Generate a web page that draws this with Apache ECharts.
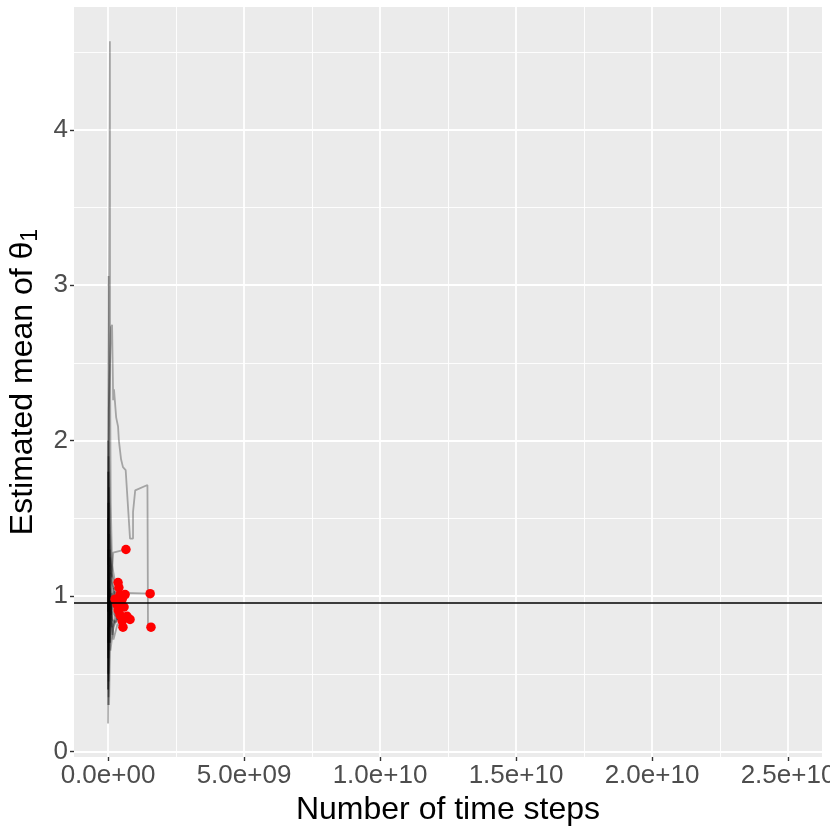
<!DOCTYPE html>
<html>
<head>
<meta charset="utf-8">
<script src="https://cdn.jsdelivr.net/npm/echarts@6/dist/echarts.min.js"></script>
<style>
  html, body { margin: 0; padding: 0; background: #fff; }
  #chart { width: 830px; height: 830px; }
</style>
</head>
<body>
<div id="chart"></div>
<script>
// tick positions
const xMajor = [0, 5e9, 1e10, 1.5e10, 2e10, 2.5e10]
const xMinor = [2.5e9, 7.5e9, 1.25e10, 1.75e10, 2.25e10]
const yMajor = [0, 1, 2, 3, 4]
const yMinor = [0.5, 1.5, 2.5, 3.5, 4.5]

const trueMean = 0.958

// each run: [time step, estimated mean]; last point is the red endpoint
const runs = [
  [[1e6, 1.2], [7e7, 4.57], [7.5e7, 2.5], [1.0e8, 1.6], [1.5e8, 1.2], [2.5e8, 1.1], [3.7e8, 1.087]],
  [[1e6, 0.7], [2e7, 3.06], [3e7, 2.0], [8e7, 1.4], [1.5e8, 1.1], [2.6e8, 0.98]],
  [[1e6, 1.8], [2e7, 0.5], [6e7, 1.3], [1.2e8, 1.15], [2.5e8, 1.08], [4.0e8, 1.055]],
  [[1e6, 0.18], [3e7, 1.0], [6e7, 0.7], [1.3e8, 0.95], [2.5e8, 1.03], [4.4e8, 1.01]],
  [[1e6, 2.0], [3e7, 0.8], [8e7, 1.15], [1.6e8, 0.95], [3.0e8, 1.0], [6.3e8, 1.01]],
  [[1e6, 0.3], [4e7, 1.4], [9e7, 0.85], [2.0e8, 1.05], [3.5e8, 0.97], [5.2e8, 0.98]],
  [[1e6, 1.5], [2e7, 0.35], [6e7, 0.75], [1.3e8, 1.02], [2.5e8, 0.9], [3.7e8, 0.91]],
  [[1e6, 0.6], [3e7, 1.6], [7e7, 0.9], [1.6e8, 0.75], [3.2e8, 0.96], [5.9e8, 0.93]],
  [[1e6, 1.1], [2e7, 0.45], [7e7, 1.25], [1.5e8, 0.85], [2.8e8, 0.83], [4.4e8, 0.88]],
  [[1e6, 0.9], [3e7, 1.7], [8e7, 0.7], [1.8e8, 0.9], [3.6e8, 0.85], [7.0e8, 0.87]],
  [[1e6, 0.4], [3e7, 1.2], [9e7, 0.65], [2.0e8, 0.8], [4.0e8, 0.88], [8.1e8, 0.85]],
  [[1e6, 1.3], [2e7, 0.6], [6e7, 1.05], [1.4e8, 0.8], [3.0e8, 0.86], [5.2e8, 0.84]],
  [[1e6, 0.8], [4e7, 0.3], [1.0e8, 0.95], [2.0e8, 0.72], [3.5e8, 0.82], [5.5e8, 0.80]],
  [[1e6, 1.6], [2e7, 0.7], [5e7, 1.1], [1.1e8, 0.88], [2.0e8, 0.96], [3.3e8, 0.945]],
  [[1e6, 0.5], [2e7, 1.8], [5e7, 1.5], [9e7, 1.2], [1.4e8, 1.12], [1.6e8, 1.19], [1.9e8, 1.28], [6.6e8, 1.30]],
  [[1e6, 0.4], [2e7, 1.9], [6e7, 1.3], [1.2e8, 1.1], [2.0e8, 1.05], [3.5e8, 1.04], [5.0e8, 1.02], [6.3e8, 1.02], [1.55e9, 1.016]],
  [[1e6, 0.9], [3e7, 2.2], [1.1e8, 2.73], [1.5e8, 2.745], [1.8e8, 2.39], [1.9e8, 2.26], [2.2e8, 2.33],
   [3.0e8, 2.15], [3.7e8, 2.09], [4.0e8, 2.0], [4.8e8, 1.88], [5.5e8, 1.83], [6.5e8, 1.81], [8.1e8, 1.37],
   [9.2e8, 1.37], [9.2e8, 1.54], [9.9e8, 1.55], [1.0e9, 1.68], [1.45e9, 1.715], [1.47e9, 0.82], [1.58e9, 0.80]]
]

const endpoints = runs.map(r => r[r.length - 1])

const sci = v => {
  const [m, e] = v.toExponential(1).split('e')
  return m + 'e' + e[0] + e.slice(1).padStart(2, '0')
}

const FONT = '"Liberation Sans", Arial, sans-serif'
const chart = echarts.init(document.getElementById('chart'))

const lineSeries = runs.map(r => ({
  type: 'line', data: r, showSymbol: false, silent: true,
  lineStyle: { color: 'rgba(0,0,0,0.3)', width: 1.8 },
  z: 2
}))

chart.setOption({
  animation: false,
  backgroundColor: '#ffffff',
  grid: {
    left: 74, right: 8, top: 7, bottom: 73, outerBoundsMode: 'none', containLabel: false,
    show: true, backgroundColor: '#EBEBEB', borderWidth: 0
  },
  xAxis: [{
    type: 'value', min: -1.25e9, max: 2.625e10,
    axisLine: { show: false, onZero: false },
    axisTick: { show: true, customValues: xMajor, length: 4, lineStyle: { color: '#333333', width: 1.4 } },
    axisLabel: { customValues: xMajor, formatter: sci, fontFamily: FONT, fontSize: 26, color: '#4D4D4D', margin: 6, hideOverlap: false },
    splitLine: { show: true, lineStyle: { color: '#ffffff', width: 1.8 } },
    name: 'Number of time steps', nameLocation: 'middle', nameGap: 30,
    nameTextStyle: { fontFamily: FONT, fontSize: 32, color: '#000000' }
  }, {
    type: 'value', min: -1.25e9, max: 2.625e10, position: 'top',
    axisLine: { show: false, onZero: false },
    axisTick: { show: false, customValues: xMinor },
    axisLabel: { show: false, customValues: xMinor },
    splitLine: { show: true, lineStyle: { color: '#ffffff', width: 0.9 } }
  }],
  yAxis: [{
    type: 'value', min: -0.035, max: 4.79,
    axisLine: { show: false, onZero: false },
    axisTick: { show: true, customValues: yMajor, length: 4, lineStyle: { color: '#333333', width: 1.4 } },
    axisLabel: { customValues: yMajor, fontFamily: FONT, fontSize: 26, color: '#4D4D4D', margin: 6 },
    splitLine: { show: true, lineStyle: { color: '#ffffff', width: 1.8 } },
    name: '{a|Estimated mean of θ}{b|1}', nameLocation: 'middle', nameGap: 30, nameRotate: 90,
    nameTextStyle: {
      fontFamily: FONT, fontSize: 32, color: '#000000',
      rich: {
        a: { fontFamily: FONT, fontSize: 32, color: '#000000', lineHeight: 38 },
        b: { fontFamily: FONT, fontSize: 23, color: '#000000', lineHeight: 38, verticalAlign: 'bottom', padding: [18, 0, 0, 0] }
      }
    }
  }, {
    type: 'value', min: -0.035, max: 4.79, position: 'right',
    axisLine: { show: false, onZero: false },
    axisTick: { show: false, customValues: yMinor },
    axisLabel: { show: false, customValues: yMinor },
    splitLine: { show: true, lineStyle: { color: '#ffffff', width: 0.9 } }
  }],
  series: [
    ...lineSeries,
    {
      type: 'line', data: [], silent: true,
      markLine: {
        silent: true, symbol: 'none', label: { show: false },
        lineStyle: { color: '#000000', width: 1.6, type: 'solid' },
        data: [{ yAxis: trueMean }]
      },
      z: 3
    },
    {
      type: 'scatter', data: endpoints, symbolSize: 9.5, silent: true,
      itemStyle: { color: '#FF0000', opacity: 1 },
      z: 4
    }
  ]
})
</script>
</body>
</html>
